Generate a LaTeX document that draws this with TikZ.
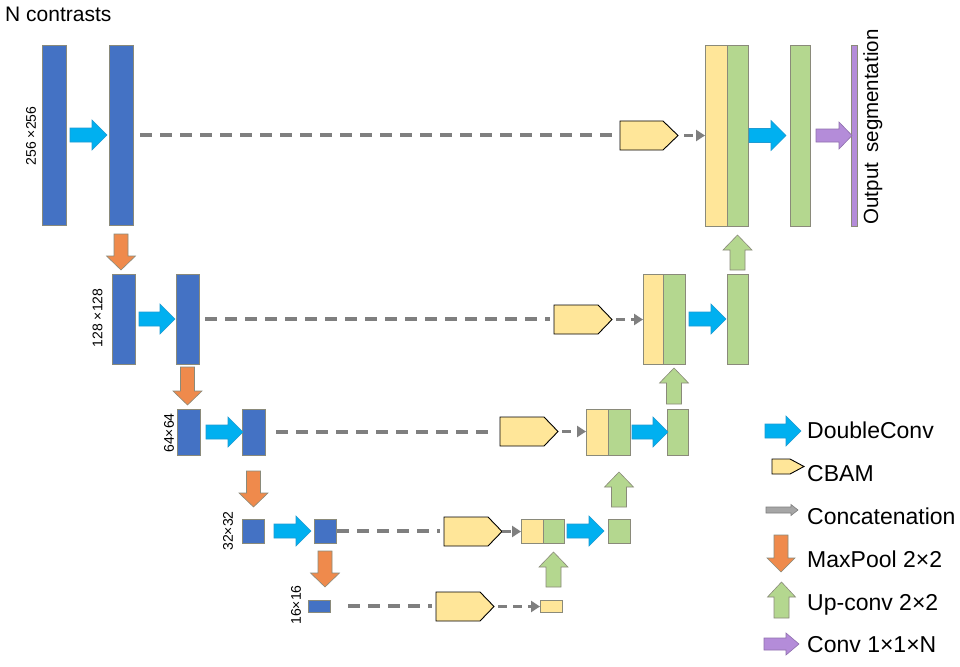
\documentclass[tikz,border=0pt]{standalone}
\usepackage{fontspec}
\setmainfont{Liberation Sans}
\usetikzlibrary{calc,arrows.meta}
\definecolor{cblue}{HTML}{4472C4}
\definecolor{ccyan}{HTML}{00B0F0}
\definecolor{ccyand}{HTML}{1E9BD2}
\definecolor{corange}{HTML}{EF8A4C}
\definecolor{cyellow}{HTML}{FFE699}
\definecolor{cgreen}{HTML}{B4D78F}
\definecolor{cpurple}{HTML}{B48CD9}
\definecolor{cgray}{HTML}{7F7F7F}
\definecolor{cbord}{HTML}{8A8A7A}
\definecolor{clgray}{HTML}{A6A6A6}
\tikzset{
 blkbase/.style={rectangle, inner sep=0pt, outer sep=0pt, line width=0.8pt, draw=cbord},
 bblk/.style={blkbase, fill=cblue},
 yblk/.style={blkbase, fill=cyellow},
 gblk/.style={blkbase, fill=cgreen},
 pblk/.style={blkbase, fill=cpurple},
 cbamnode/.style={rectangle, inner sep=0pt, outer sep=0pt},
 cbamfill/.style={fill=cyellow, draw=black, line width=0.9pt, line join=miter},
 cyanarr/.style={fill=ccyan, draw=ccyand, line width=0.6pt},
 orarr/.style={fill=corange, draw=cbord, line width=0.6pt},
 grarr/.style={fill=cgreen, draw=cbord, line width=0.6pt},
 puarr/.style={fill=cpurple, draw=cpurple!80!black, line width=0.6pt},
 lgarr/.style={fill=clgray, draw=cgray, line width=0.6pt},
 skipline/.style={draw=cgray, line width=3.5pt, dash pattern=on 12pt off 8pt},
 catline/.style={draw=cgray, line width=3pt, dash pattern=on 9pt off 6pt, -{Triangle[length=9pt,width=11pt]}},
 dimlbl/.style={rotate=90, font=\fontsize{14}{16}\selectfont, inner sep=0pt},
 lgtxt/.style={anchor=base west, inner sep=0pt, font=\fontsize{23}{27}\selectfont},
}
% block: style, name, x1, y1, x2, y2
\newcommand\myblk[6]{\node[#1, minimum width={(#5)-(#3)}, minimum height={(#6)-(#4)}] (#2) at ({((#3)+(#5))/2},{((#4)+(#6))/2}) {};}
% cbam: tip length, name, x1, y1, x2, y2
\newcommand\mycbam[6]{\node[cbamnode, minimum width={(#5)-(#3)}, minimum height={(#6)-(#4)}] (#2) at ({((#3)+(#5))/2},{((#4)+(#6))/2}) {};
 \path[cbamfill] (#2.north west) -- ($(#2.north east)+(-#1,0)$) -- (#2.east) -- ($(#2.south east)+(-#1,0)$) -- (#2.south west) -- cycle;}
% block arrows: style, start, tip, shaft half, head half, head length
\newcommand\myR[6]{\path[#1] let \p1=#2, \p2=#3 in
 (\x1,{\y1+#4pt}) -- ({\x2-#6pt},{\y1+#4pt}) -- ({\x2-#6pt},{\y1+#5pt}) -- (\x2,\y1) -- ({\x2-#6pt},{\y1-#5pt}) -- ({\x2-#6pt},{\y1-#4pt}) -- (\x1,{\y1-#4pt}) -- cycle;}
\newcommand\myD[6]{\path[#1] let \p1=#2, \p2=#3 in
 ({\x1-#4pt},\y1) -- ({\x1+#4pt},\y1) -- ({\x1+#4pt},{\y2+#6pt}) -- ({\x1+#5pt},{\y2+#6pt}) -- (\x1,\y2) -- ({\x1-#5pt},{\y2+#6pt}) -- ({\x1-#4pt},{\y2+#6pt}) -- cycle;}
\newcommand\myU[6]{\path[#1] let \p1=#2, \p2=#3 in
 ({\x2-#4pt},\y1) -- ({\x2+#4pt},\y1) -- ({\x2+#4pt},{\y2-#6pt}) -- ({\x2+#5pt},{\y2-#6pt}) -- (\x2,\y2) -- ({\x2-#5pt},{\y2-#6pt}) -- ({\x2-#4pt},{\y2-#6pt}) -- cycle;}
\begin{document}
\begin{tikzpicture}[x=1pt,y=-1pt]
\useasboundingbox (0,0) rectangle (960,666);
\fill[white] (0,0) rectangle (960,666);
% level 1
\myblk{bblk}{a1}{42}{45}{66}{225}
\myblk{bblk}{a2}{109}{45}{133}{225}
\mycbam{15}{cb1}{620}{121}{678}{150}
\myblk{yblk}{c1y}{705}{45}{727}{226}
\myblk{gblk}{c1g}{727}{45}{748}{226}
\myblk{gblk}{g1}{790}{45}{810}{226}
\myblk{pblk}{out}{851}{45}{857}{226}
% level 2
\myblk{bblk}{b1}{112}{274}{135}{364}
\myblk{bblk}{b2}{176}{274}{199}{364}
\mycbam{14}{cb2}{554}{305}{612}{334}
\myblk{yblk}{c2y}{643}{274}{663}{364}
\myblk{gblk}{c2g}{663}{274}{685}{364}
\myblk{gblk}{g2}{727}{274}{748}{364}
% level 3
\myblk{bblk}{cc1}{177}{409}{200}{455}
\myblk{bblk}{cc2}{242}{409}{265}{455}
\mycbam{14}{cb3}{500}{417}{558}{446}
\myblk{yblk}{c3y}{586}{409}{608}{455}
\myblk{gblk}{c3g}{608}{409}{630}{455}
\myblk{gblk}{g3}{667}{409}{688}{455}
% level 4
\myblk{bblk}{d1}{242}{519}{264}{543}
\myblk{bblk}{d2}{314}{519}{336}{543}
\mycbam{14}{cb4}{444}{517}{502}{546}
\myblk{yblk}{c4y}{521}{519}{543}{543}
\myblk{gblk}{c4g}{543}{519}{564}{543}
\myblk{gblk}{g4}{608}{519}{630}{543}
% level 5
\myblk{bblk}{e1}{308}{600}{330}{612}
\mycbam{14}{cb5}{436}{592}{494}{621}
\myblk{yblk}{e5y}{540}{600}{562}{612}
% skip connections
\draw[skipline] ($(a2.east)+(7,0)$) -- ($(a2.east -| cb1.west)+(-5,0)$);
\draw[skipline] ($(b2.east)+(6,0)$) -- ($(b2.east -| cb2.west)+(-4,0)$);
\draw[skipline] ($(cc2.east)+(11,0)$) -- ($(cc2.east -| cb3.west)+(-5,0)$);
\draw[skipline] ($(d2.east)+(1,0)$) -- ($(d2.east -| cb4.west)+(-4,0)$);
\draw[skipline] ($(e1.east)+(18,0)$) -- ($(e1.east -| cb5.west)+(-4,0)$);
% concatenation
\draw[catline] ($(cb1.east)+(6,0)$) -- (cb1.east -| c1y.west);
\draw[catline] ($(cb2.east)+(4,0)$) -- (cb2.east -| c2y.west);
\draw[catline] ($(cb3.east)+(4,0)$) -- (cb3.east -| c3y.west);
\draw[catline] ($(cb4.east)+(0,0)$) -- (cb4.east -| c4y.west);
\draw[catline] ($(cb5.east)+(4,0)$) -- (cb5.east -| e5y.west);
% double conv
\myR{cyanarr}{($(a1.east)+(4,0)$)}{($(a2.west)+(-2,0)$)}{7}{15}{15}
\myR{cyanarr}{($(b1.east)+(4,0)$)}{($(b2.west)+(-1,0)$)}{7}{15}{15}
\myR{cyanarr}{($(cc1.east)+(6,0)$)}{($(cc2.west)+(1,0)$)}{7}{15}{15}
\myR{cyanarr}{($(d1.east)+(10,0)$)}{($(d2.west)+(-3,0)$)}{7}{15}{15}
\myR{cyanarr}{($(c1g.east)+(1,0)$)}{($(g1.west)+(-4,0)$)}{7}{15}{15}
\myR{cyanarr}{($(c2g.east)+(4,0)$)}{($(g2.west)+(-1,0)$)}{7}{15}{15}
\myR{cyanarr}{($(c3g.east)+(2,0)$)}{($(g3.west)+(1,0)$)}{7}{15}{15}
\myR{cyanarr}{($(c4g.east)+(3,0)$)}{($(g4.west)+(-4,0)$)}{7}{15}{15}
% output conv
\myR{puarr}{($(g1.east)+(6,0)$)}{($(out.west)+(1,0)$)}{6.5}{13.5}{13}
% maxpool
\myD{orarr}{($(a2.south)+(0,9)$)}{($(b1.north)+(0,-4)$)}{7}{14.5}{14}
\myD{orarr}{($(b2.south)+(0,3)$)}{($(cc1.north)+(0,-4)$)}{7}{14.5}{14}
\myD{orarr}{($(cc2.south)+(0,16)$)}{($(d1.north)+(0,-12)$)}{7}{14.5}{14}
\myD{orarr}{($(d2.south)+(0,8)$)}{($(e1.north)+(0,-13)$)}{7}{14.5}{14}
% up-conv
\myU{grarr}{($(e5y.north)+(0,-13)$)}{($(c4g.south)+(0,9)$)}{7.5}{14.5}{15}
\myU{grarr}{($(g4.north)+(0,-12)$)}{($(c3g.south)+(0,17)$)}{7.5}{14.5}{15}
\myU{grarr}{($(g3.north)+(0,-5)$)}{($(c2g.south)+(0,4)$)}{7.5}{14.5}{15}
\myU{grarr}{($(g2.north)+(0,-4)$)}{($(c1g.south)+(0,9)$)}{7.5}{14.5}{15}
% texts
\node[anchor=base west, inner sep=0pt, font=\fontsize{21}{25}\selectfont] (title) at (5,22) {N contrasts};
\node[dimlbl] (l1) at (31,136) {256 ×256};
\node[dimlbl] (l2) at (97.5,318) {128 ×128};
\node[dimlbl] (l3) at (169,433) {64×64};
\node[dimlbl] (l4) at (228,531) {32×32};
\node[dimlbl] (l5) at (296,605) {16×16};
\node[rotate=90, anchor=base, inner sep=0pt, font=\fontsize{20.5}{24}\selectfont] (outlbl) at (878,127) {Output\enspace segmentation};
% legend
\coordinate (k1a) at (765,431); \coordinate (k1b) at (801,431);
\myR{cyanarr}{(k1a)}{(k1b)}{7}{15}{15}
\node[lgtxt] (t1) at (807,438) {DoubleConv};
\mycbam{14}{k2}{772}{459}{804}{474}
\node[lgtxt] (t2) at (807,481) {CBAM};
\coordinate (k3a) at (766,510); \coordinate (k3b) at (798,510);
\myR{lgarr}{(k3a)}{(k3b)}{3}{5.5}{7}
\node[lgtxt] (t3) at (807,524) {Concatenation};
\coordinate (k4a) at (781,535); \coordinate (k4b) at (781,572);
\myD{orarr}{(k4a)}{(k4b)}{7}{14}{14}
\node[lgtxt] (t4) at (807,567) {MaxPool 2×2};
\coordinate (k5a) at (781.5,618); \coordinate (k5b) at (781.5,582);
\myU{grarr}{(k5a)}{(k5b)}{7.5}{14}{15}
\node[lgtxt] (t5) at (807,610) {Up-conv 2×2};
\coordinate (k6a) at (764,644); \coordinate (k6b) at (799,644);
\myR{puarr}{(k6a)}{(k6b)}{6}{11}{13}
\node[lgtxt] (t6) at (807,652) {Conv 1×1×N};
\end{tikzpicture}
\end{document}
